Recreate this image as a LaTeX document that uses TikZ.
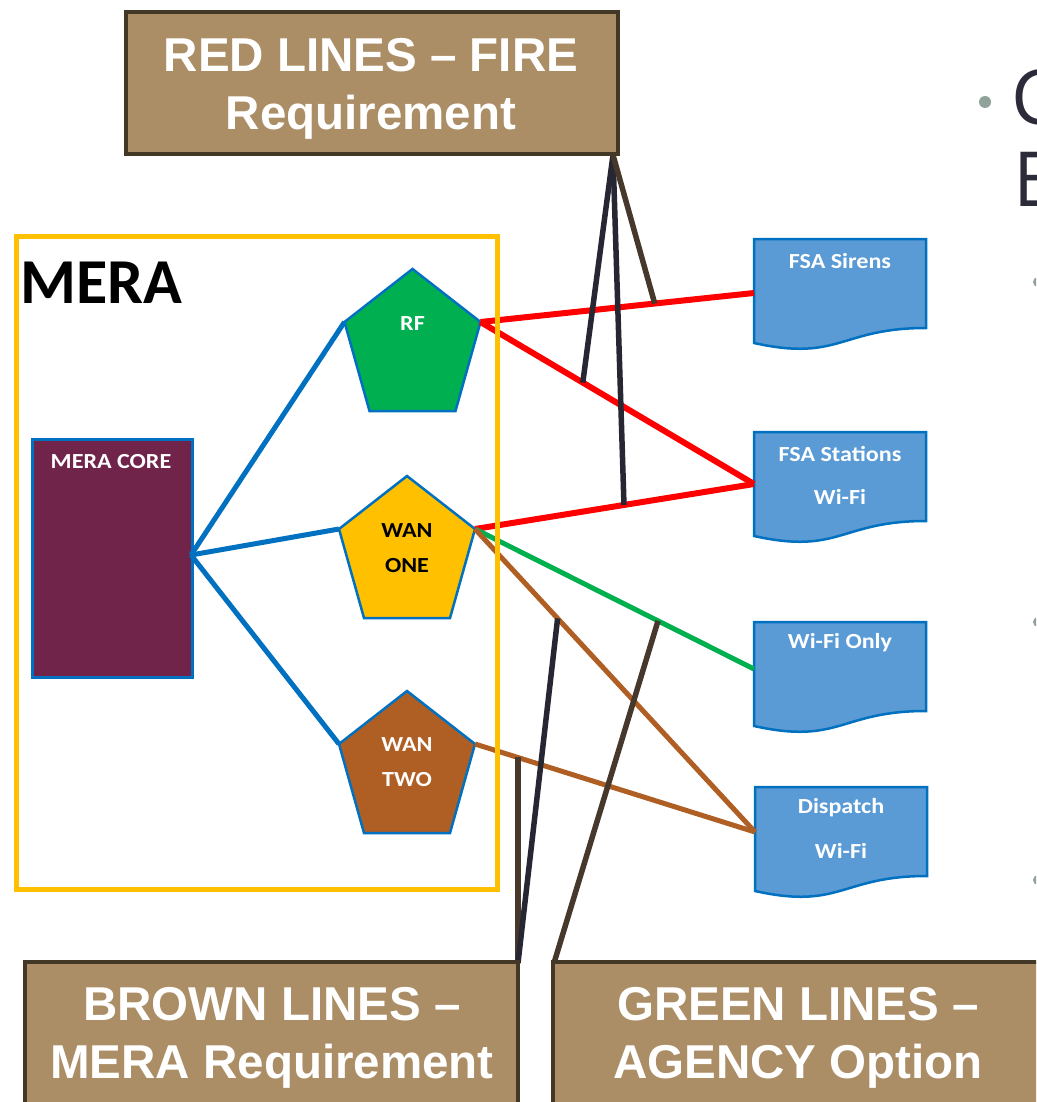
\documentclass[tikz,border=0pt]{standalone}
\usepackage{fontspec}
\setmainfont{Liberation Sans}
\newfontfamily\calfont[FakeStretch=1.12]{Carlito}
\newfontfamily\calbig{Carlito}
\newfontfamily\slidefont{Open Sans}
\usetikzlibrary{calc}
\definecolor{calloutfill}{HTML}{AB8D66}
\definecolor{calloutdraw}{HTML}{433726}
\definecolor{merayellow}{HTML}{FFC000}
\definecolor{coreviolet}{HTML}{70244A}
\definecolor{nodeblue}{HTML}{0070C0}
\definecolor{rfgreen}{HTML}{00B050}
\definecolor{wanbrown}{HTML}{B05F24}
\definecolor{docfill}{HTML}{5B9BD5}
\definecolor{firered}{HTML}{FF0000}
\definecolor{pointnavy}{HTML}{272733}
\definecolor{pointbrown}{HTML}{46382A}
\definecolor{bulletgray}{HTML}{8FA39A}
\definecolor{slidetext}{HTML}{2B2B3A}
\tikzset{
  callout/.style={draw=calloutdraw, fill=calloutfill, line width=4.5pt, text=white,
    font=\fontsize{47.5}{58}\selectfont\bfseries, align=center, inner sep=0pt},
  penta/.style={draw=nodeblue, line width=2.5pt, line join=miter},
  plabel/.style={font=\calfont\fontsize{21.5}{35}\selectfont\bfseries, align=center, inner sep=0pt},
  docstyle/.style={draw=nodeblue, fill=docfill, line width=2.5pt},
  dlabel/.style={font=\calfont\fontsize{21.5}{25}\selectfont\bfseries, text=white, inner sep=0pt},
  bluelink/.style={draw=nodeblue, line width=5pt},
  redlink/.style={draw=firered, line width=6pt},
  greenlink/.style={draw=rfgreen, line width=5pt},
  brownlink/.style={draw=wanbrown, line width=5pt},
  navyptr/.style={draw=pointnavy, line width=5.5pt},
  brownptr/.style={draw=pointbrown, line width=5.5pt},
}
\newcommand\pentacoords[3]{%
  \coordinate (#1-t) at (#2,#3);
  \coordinate (#1-l) at (#2-68,#3+53);
  \coordinate (#1-r) at (#2+68,#3+53);
  \coordinate (#1-bl) at (#2-43,#3+142);
  \coordinate (#1-br) at (#2+43,#3+142);}
\newcommand\pentafill[2]{%
  \filldraw[penta, fill=#2] (#1-t) -- (#1-r) -- (#1-br) -- (#1-bl) -- (#1-l) -- cycle;}
\newcommand\docpath[3]{%
  \coordinate (#1-nw) at (#2,#3);
  \filldraw[docstyle] (#2,#3) -- (#2+172,#3) -- (#2+172,#3+89)
    .. controls (#2+86,#3+89) and (#2+86,#3+123) .. (#2,#3+104) -- cycle;}
\begin{document}
\begin{tikzpicture}[x=1pt,y=-1pt]
\useasboundingbox (0,0) rectangle (1036,1102);
\clip (0,0) rectangle (1036,1102);
\fill[white] (0,0) rectangle (1036,1102);

% MERA label and core
\node[font=\calbig\fontsize{64}{64}\selectfont\bfseries, anchor=base west, inner sep=0pt] (meralabel) at (20,303) {MERA};
\node[draw=nodeblue, fill=coreviolet, line width=2.5pt, minimum width=160pt, minimum height=238pt, anchor=north west] (core) at (31,438) {};
\node[dlabel] (corelabel) at (111,462) {MERA CORE};
\coordinate (core-out) at (191,555);

% pentagon coordinates
\pentacoords{rf}{412.5}{269}
\pentacoords{wan1}{407}{476}
\pentacoords{wan2}{407}{691}

% documents
\docpath{sirens}{754}{239}
\docpath{stations}{754}{432}
\docpath{wifionly}{754}{622}
\docpath{dispatch}{755}{787}
\coordinate (sirens-in) at (754,293);
\coordinate (stations-in) at (754,484);
\coordinate (wifionly-in) at (754,669);
\coordinate (dispatch-in) at (755,832);
\node[dlabel] (sirenslabel) at (840,261) {FSA Sirens};
\node[dlabel] (stationslabel1) at (840,454) {FSA Stations};
\node[dlabel] (stationslabel2) at (840,497) {Wi-Fi};
\node[dlabel] (wifionlylabel) at (840,643) {Wi-Fi Only};
\node[dlabel] (dispatchlabel1) at (841,808) {Dispatch};
\node[dlabel] (dispatchlabel2) at (841,851) {Wi-Fi};

% pentagons
\pentafill{rf}{rfgreen}
\pentafill{wan1}{merayellow}
\pentafill{wan2}{wanbrown}
\node[plabel, text=white] (rflabel) at (412.5,324) {RF};
\node[plabel, text=black] (wan1label) at (407,548.5) {WAN\\ONE};
\node[plabel, text=white] (wan2label) at (407,762.5) {WAN\\TWO};

% connectors
\draw[bluelink] (core-out) -- (rf-l);
\draw[bluelink] (core-out) -- (wan1-l);
\draw[bluelink] (core-out) -- (wan2-l);
\draw[redlink] (rf-r) -- (sirens-in);
\draw[redlink] (rf-r) -- (stations-in);
\draw[redlink] (wan1-r) -- (stations-in);
\draw[greenlink] (wan1-r) -- (wifionly-in);
\draw[brownlink] (wan1-r) -- (dispatch-in);
\draw[brownlink] (wan2-r) -- (dispatch-in);

% MERA frame
\node[draw=merayellow, line width=4.5pt, minimum width=481pt, minimum height=653pt, anchor=north west] (meraframe) at (14,234) {};

% pointers
\coordinate (fire-tip) at (613,155);
\coordinate (brown-tip) at (518,963);
\coordinate (green-tip) at (554,963);
\coordinate (p1) at ($(rf-r)!0.374!(stations-in)$);
\coordinate (p2) at ($(wan1-r)!0.534!(stations-in)$);
\coordinate (p3) at ($(rf-r)!0.637!(sirens-in)$);
\coordinate (p4) at ($(wan2-r)!0.146!(dispatch-in)$);
\coordinate (p5) at ($(wan1-r)!0.295!(dispatch-in)$);
\coordinate (p6) at ($(wan1-r)!0.656!(wifionly-in)$);
\draw[navyptr] (fire-tip) -- (p1);
\draw[navyptr] (fire-tip) -- (p2);
\draw[brownptr] (fire-tip) -- (p3);
\draw[brownptr] (brown-tip) -- (brown-tip |- p4);
\draw[navyptr] (brown-tip) -- (p5);
\draw[brownptr] (green-tip) -- (p6);

% callouts
\node[callout, minimum width=492pt, minimum height=142pt] (fire) at (372,83) {};
\node[callout, draw=none, fill=none] (firetext) at (371,89) {RED LINES -- FIRE\\Requirement};
\node[callout, minimum width=493pt, minimum height=146pt] (brownbox) at (271.5,1035) {};
\node[callout, draw=none, fill=none] (browntext) at (272,1038) {BROWN LINES --\\MERA Requirement};
\node[callout, minimum width=490pt, minimum height=146pt] (greenbox) at (798,1035) {};
\node[callout, draw=none, fill=none] (greentext) at (798,1038) {GREEN LINES --\\AGENCY Option};

% slide text cut at right edge
\fill[bulletgray] (985,102) circle (6);
\node[font=\slidefont\fontsize{76}{76}\selectfont, text=slidetext, anchor=base west, inner sep=0pt] (slideC) at (1011,125) {C};
\node[font=\slidefont\fontsize{76}{76}\selectfont, text=slidetext, anchor=base west, inner sep=0pt] (slideE) at (1013,207) {E};
\fill[bulletgray] (1038,282) circle (5);
\fill[bulletgray] (1038,622) circle (5);
\fill[bulletgray] (1038,880) circle (5);
\end{tikzpicture}
\end{document}
